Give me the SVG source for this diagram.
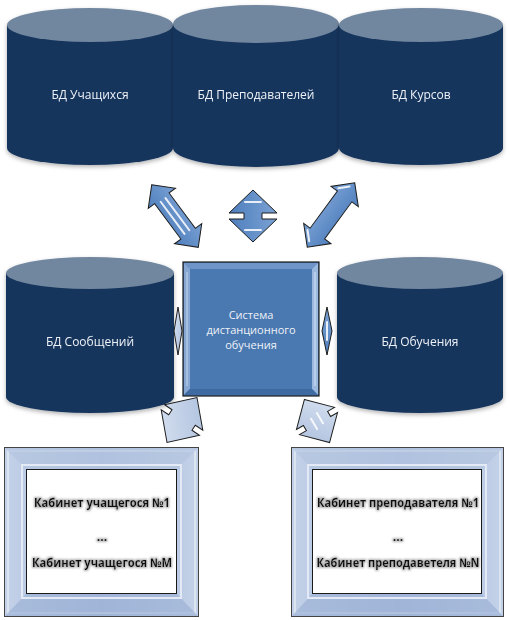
<svg xmlns="http://www.w3.org/2000/svg" width="510" height="620" viewBox="0 0 510 620">
<style>
.body{fill:#18365d}
.top{fill:#71869f}
.dbt{font-family:"Open Sans","Liberation Sans",sans-serif;font-size:12px;fill:#eef2f8;text-anchor:middle}
.sys{font-family:"Open Sans","Liberation Sans",sans-serif;font-size:11px;fill:#eef2f8;text-anchor:middle}
.cab{font-family:"Open Sans","Liberation Sans",sans-serif;font-size:12px;font-weight:bold;fill:#111;text-anchor:middle}
.arr{fill:url(#ag);stroke:#1d1d1d;stroke-width:1;stroke-linejoin:miter}
.parr{fill:url(#pg);stroke:#1d1d1d;stroke-width:1}
.hl{stroke:#fff;stroke-width:2;stroke-linecap:round;opacity:0.85}
</style>
<defs>
<linearGradient id="ag" x1="0" y1="0" x2="0" y2="1">
<stop offset="0" stop-color="#7aa1d4"/>
<stop offset="1" stop-color="#4f7fbd"/>
</linearGradient>
<linearGradient id="pg" x1="0" y1="0" x2="1" y2="1">
<stop offset="0" stop-color="#dbe4f2"/>
<stop offset="1" stop-color="#a9bddc"/>
</linearGradient>
<linearGradient id="fg" x1="0" y1="0" x2="1" y2="0">
<stop offset="0" stop-color="#c3d1e8"/>
<stop offset="0.5" stop-color="#a6badb"/>
<stop offset="1" stop-color="#c3d1e8"/>
</linearGradient>
<filter id="sh" x="-10%" y="-10%" width="120%" height="125%">
<feDropShadow dx="0" dy="2" stdDeviation="2" flood-color="#000" flood-opacity="0.3"/>
</filter>
<filter id="glow" x="-10%" y="-50%" width="120%" height="200%">
<feMorphology in="SourceAlpha" operator="dilate" radius="1" result="d"/>
<feGaussianBlur in="d" stdDeviation="1.2" result="b"/>
<feFlood flood-color="#9a9a9a" flood-opacity="0.8"/>
<feComposite in2="b" operator="in" result="g"/>
<feMerge><feMergeNode in="g"/><feMergeNode in="SourceGraphic"/></feMerge>
</filter>
</defs>

<g id="db-students" filter="url(#sh)">
<path class="body" d="M7,25 L7,148 A83,17 0 0 0 173,148 L173,25 Z"/>
<ellipse class="top" cx="90" cy="25" rx="83" ry="17"/>
<text class="dbt" x="90" y="99">БД Учащихся</text>
</g>
<g id="db-teachers" filter="url(#sh)">
<path class="body" d="M173,24 L173,148 A83,19 0 0 0 339,148 L339,24 Z"/>
<ellipse class="top" cx="256" cy="24" rx="83" ry="19"/>
<text class="dbt" x="256" y="99">БД Преподавателей</text>
</g>
<g id="db-courses" filter="url(#sh)">
<path class="body" d="M339,25 L339,148 A82,17 0 0 0 503,148 L503,25 Z"/>
<ellipse class="top" cx="421" cy="25" rx="82" ry="17"/>
<text class="dbt" x="421" y="99">БД Курсов</text>
</g>
<g id="db-messages" filter="url(#sh)">
<path class="body" d="M6,273 L6,397 A84,16 0 0 0 174,397 L174,273 Z"/>
<ellipse class="top" cx="90" cy="273" rx="84" ry="16"/>
<text class="dbt" x="90" y="346">БД Сообщений</text>
</g>
<g id="db-learning" filter="url(#sh)">
<path class="body" d="M337,273 L337,397 A83,16 0 0 0 503,397 L503,273 Z"/>
<ellipse class="top" cx="420" cy="273" rx="83" ry="16"/>
<text class="dbt" x="420" y="346">БД Обучения</text>
</g>

<g id="system">
<rect x="183" y="262" width="136" height="134" fill="#4a78b0" stroke="#1a1a1a" stroke-width="1.2"/>
<polygon points="184,263 318,263 312,269 190,269" fill="#6f95c8"/>
<polygon points="184,263 190,269 190,389 184,395" fill="#86a7d3"/>
<polygon points="318,263 318,395 312,389 312,269" fill="#9bb8df"/>
<polygon points="184,395 190,389 312,389 318,395" fill="#3f6aa2"/>
<line x1="315" y1="272" x2="315" y2="386" stroke="#d6e3f4" stroke-width="1"/>
<line x1="187" y1="272" x2="187" y2="386" stroke="#c4d5ed" stroke-width="1"/>
<text class="sys" x="251" y="319">Система</text>
<text class="sys" x="251" y="334">дистанционного</text>
<text class="sys" x="251" y="349">обучения</text>
</g>

<g id="cab-students">
<rect x="4.5" y="447.5" width="194" height="169" fill="url(#fg)" stroke="#444" stroke-width="1"/>
<rect x="8" y="451" width="187" height="162" fill="none" stroke="#dbe4f1" stroke-width="2"/>
<polygon points="5,448 198,448 177,469 26,469" fill="#b3c4e0" opacity="0.7"/>
<polygon points="5,616 198,616 177,594 26,594" fill="#9db2d6" opacity="0.7"/>
<rect x="22" y="465" width="159" height="133" fill="none" stroke="#e3eaf5" stroke-width="2"/>
<rect x="26.5" y="469.5" width="150" height="124" fill="#fff" stroke="#1a1a1a" stroke-width="1"/>
<g filter="url(#glow)">
<text class="cab" x="102" y="507" textLength="136" lengthAdjust="spacingAndGlyphs">Кабинет учащегося №1</text>
<text class="cab" x="102" y="541">...</text>
<text class="cab" x="102" y="567" textLength="140" lengthAdjust="spacingAndGlyphs">Кабинет учащегося №M</text>
</g>
</g>

<g id="cab-teachers">
<rect x="291.5" y="447.5" width="212" height="169" fill="url(#fg)" stroke="#444" stroke-width="1"/>
<rect x="295" y="451" width="205" height="162" fill="none" stroke="#dbe4f1" stroke-width="2"/>
<polygon points="292,448 503,448 482,469 312,469" fill="#b3c4e0" opacity="0.7"/>
<polygon points="292,616 503,616 482,594 312,594" fill="#9db2d6" opacity="0.7"/>
<rect x="308" y="465" width="178" height="133" fill="none" stroke="#e3eaf5" stroke-width="2"/>
<rect x="312.5" y="469.5" width="169" height="124" fill="#fff" stroke="#1a1a1a" stroke-width="1"/>
<g filter="url(#glow)">
<text class="cab" x="398" y="507" textLength="162" lengthAdjust="spacingAndGlyphs">Кабинет преподавателя  №1</text>
<text class="cab" x="398" y="541">...</text>
<text class="cab" x="398" y="567" textLength="163" lengthAdjust="spacingAndGlyphs">Кабинет преподаветеля №N</text>
</g>
</g>

<g id="connectors">
<g transform="translate(175,216) rotate(53.4)">
<polygon class="arr" points="-39,0 -22,-17 -22,-9 22,-9 22,-17 39,0 22,17 22,9 -22,9 -22,17"/>
<line class="hl" x1="-20" y1="-3" x2="20" y2="-3"/>
<line class="hl" x1="-20" y1="3" x2="20" y2="3" opacity="0.6"/>
</g>
<g transform="translate(331,215) rotate(-53.6)">
<polygon class="arr" points="-40,0 -23,-17 -23,-9 23,-9 23,-17 40,0 23,17 23,9 -23,9 -23,17"/>
<line class="hl" x1="-34" y1="-2" x2="-26" y2="-10" stroke-width="1.5"/>
<line class="hl" x1="34" y1="-2" x2="26" y2="-10" stroke-width="1.5"/>
</g>
<g transform="translate(253,216) rotate(90)">
<polygon class="arr" points="-26,0 -3,-24 -3,-9 3,-9 3,-24 26,0 3,24 3,9 -3,9 -3,24"/>
<line class="hl" x1="-14" y1="-8" x2="-14" y2="8" stroke-width="1.2" opacity="0.6"/>
<line class="hl" x1="14" y1="-8" x2="14" y2="8" stroke-width="1.2" opacity="0.6"/>
</g>
<polygon class="parr" points="178,307 182,331 178,355 174,331"/>
<polygon class="arr" points="327,307 332,331 327,355 322,331"/>
<line class="hl" x1="327" y1="322" x2="327" y2="340" stroke-width="1"/>
<g transform="translate(182,420) rotate(-56.3)">
<polygon class="parr" points="-27,0 -3,-23 -3,-14 3,-14 3,-23 27,0 3,23 3,14 -3,14 -3,23"/>
</g>
<g transform="translate(317,421) rotate(59.8)">
<polygon class="parr" points="-25,0 -3,-22 -3,-14 3,-14 3,-22 25,0 3,22 3,14 -3,14 -3,22"/>
<line class="hl" x1="-7" y1="-4" x2="5" y2="-4" stroke-width="2.5"/>
<line class="hl" x1="-5" y1="4" x2="7" y2="4" stroke-width="2.5"/>
</g>
</g>
</svg>
